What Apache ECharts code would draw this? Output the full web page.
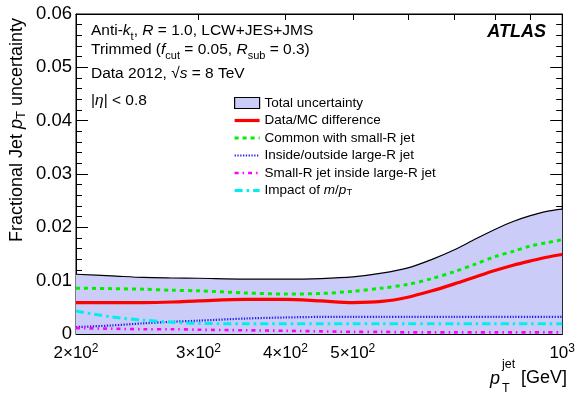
<!DOCTYPE html>
<html>
<head>
<meta charset="utf-8">
<script src="https://cdn.jsdelivr.net/npm/echarts@6/dist/echarts.min.js"></script>
<style>html,body{margin:0;padding:0;background:#fff}#c{width:578px;height:394px}</style>
</head>
<body>
<div id="c"></div>
<script>
// ---- data ----
var pT = [200, 225, 250, 275, 300, 350, 400, 450, 500, 550, 600, 650, 700, 750, 800, 850, 900, 950, 1000];
var totalUnc   = [0.0112, 0.0109, 0.0106, 0.0105, 0.01045, 0.0103, 0.0103, 0.0104, 0.0107, 0.0114, 0.0124, 0.0140, 0.0158, 0.0178, 0.0196, 0.0211, 0.0222, 0.0230, 0.0234];
var dataMC     = [0.0059, 0.0059, 0.0059, 0.0060, 0.0062, 0.0065, 0.0065, 0.0062, 0.0059, 0.0061, 0.0069, 0.0081, 0.0094, 0.0107, 0.0119, 0.0129, 0.0137, 0.0144, 0.0149];
var commonSR   = [0.0086, 0.0085, 0.0084, 0.0082, 0.0081, 0.0077, 0.0075, 0.0076, 0.0080, 0.0086, 0.0093, 0.0104, 0.0117, 0.0131, 0.0145, 0.0155, 0.0165, 0.0171, 0.0177];
var insideOut  = [0.0013, 0.0016, 0.0020, 0.0023, 0.0025, 0.0029, 0.0031, 0.0032, 0.0032, 0.0032, 0.0032, 0.0032, 0.0032, 0.0032, 0.0032, 0.0032, 0.0032, 0.0032, 0.0032];
var smallRin   = [0.0011, 0.0010, 0.0009, 0.0009, 0.0008, 0.0007, 0.0006, 0.0005, 0.0004, 0.0004, 0.0003, 0.0003, 0.0003, 0.0003, 0.0003, 0.0003, 0.0003, 0.0003, 0.0003];
var impactMpT  = [0.0043, 0.0032, 0.0026, 0.0022, 0.0020, 0.0019, 0.0019, 0.0019, 0.0019, 0.0019, 0.0019, 0.0019, 0.0019, 0.0019, 0.0019, 0.0019, 0.0019, 0.0019, 0.0019];

var seriesNames = ['Total uncertainty', 'Data/MC difference', 'Common with small-R jet', 'Inside/outside large-R jet', 'Small-R jet inside large-R jet', 'Impact of m/pT'];
var xTickValues = [200, 300, 400, 500, 600, 700, 800, 900, 1000];
var xLabelValues = [200, 300, 400, 500, 1000];
var xLabelTexts = ['2×10{s|2}', '3×10{s|2}', '4×10{s|2}', '5×10{s|2}', '10{s|3}'];
var yMin = 0, yMax = 0.06, yStep = 0.01;

function pairs(ys) { return pT.map(function (p, i) { return [p, ys[i]]; }); }

var FF = '"Liberation Sans", Arial, Helvetica, sans-serif';
var chart = echarts.init(document.getElementById('c'), null, {renderer: 'canvas'});

var xAxisBase = function (pos, showLabel) {
  return {
    type: 'log', logBase: 10, min: 200, max: 1000, position: pos,
    axisLine: {show: true, onZero: false, lineStyle: {color: '#000', width: 1}},
    axisTick: {show: true, inside: true, length: 6, customValues: xTickValues, lineStyle: {color: '#000'}},
    minorTick: {show: false},
    splitLine: {show: false},
    axisLabel: {
      show: showLabel, customValues: xLabelValues, margin: 9,
      fontFamily: FF, fontSize: 17, color: '#000', lineHeight: 20,
      formatter: function (v) { var i = xLabelValues.indexOf(Math.round(v)); return i >= 0 ? xLabelTexts[i] : ''; },
      rich: {s: {fontFamily: FF, fontSize: 12, lineHeight: 11, verticalAlign: 'top', color: '#000'}}
    }
  };
};
var yAxisBase = function (pos, showLabel) {
  return {
    type: 'value', min: yMin, max: yMax, interval: yStep, position: pos,
    axisLine: {show: true, onZero: false, lineStyle: {color: '#000', width: 1}},
    axisTick: {show: true, inside: true, length: 12, lineStyle: {color: '#000'}},
    minorTick: {show: true, splitNumber: 5, length: 6, lineStyle: {color: '#000'}},
    splitLine: {show: false},
    axisLabel: {
      show: showLabel, margin: 4, fontFamily: FF, fontSize: 18.5, color: '#000',
      formatter: function (v) { return v === 0 ? '0' : v.toFixed(2); }
    }
  };
};

var subRich = function (fs) {
  return {
    i: {fontStyle: 'italic', fontSize: fs, fontFamily: FF, lineHeight: 22},
    sub: {fontSize: Math.round(fs * 0.7), fontFamily: FF, lineHeight: 9, verticalAlign: 'bottom'}
  };
};

var option = {
  animation: false,
  backgroundColor: '#fff',
  grid: {left: 76, right: 12, top: 14, bottom: 60, show: true, borderColor: '#000', borderWidth: 1, backgroundColor: 'transparent'},
  xAxis: [xAxisBase('bottom', true), xAxisBase('top', false)],
  yAxis: [yAxisBase('left', true), yAxisBase('right', false)],
  legend: {
    orient: 'vertical', left: 233, top: 96, padding: 0, itemGap: 3.5,
    itemWidth: 25, itemHeight: 11, selectedMode: false,
    itemStyle: {opacity: 0},
    lineStyle: {width: 'inherit'},
    textStyle: {fontFamily: FF, fontSize: 13.5, color: '#000', lineHeight: 14,
      rich: {
        i: {fontFamily: FF, fontSize: 13.5, fontStyle: 'italic', lineHeight: 14},
        sub: {fontFamily: FF, fontSize: 9.5, lineHeight: 8, verticalAlign: 'bottom'}
      }},
    formatter: function (name) { return name === 'Impact of m/pT' ? 'Impact of {i|m}/{i|p}{sub|T}' : name; },
    data: [
      {name: seriesNames[0], icon: 'rect', itemStyle: {color: '#ccccf8', borderColor: '#000', borderWidth: 1.2, opacity: 1}},
      {name: seriesNames[1], lineStyle: {width: 3.2}},
      {name: seriesNames[2], lineStyle: {width: 3}},
      {name: seriesNames[3], lineStyle: {width: 2.2}},
      {name: seriesNames[4], lineStyle: {width: 2.6}},
      {name: seriesNames[5], lineStyle: {width: 3}}
    ]
  },
  series: [
    {name: seriesNames[0], type: 'line', smooth: 0.3, symbol: 'none', data: pairs(totalUnc), z: 1,
      itemStyle: {color: '#ccccf8'},
      lineStyle: {color: '#000', width: 1.2}, areaStyle: {color: '#ccccf8', opacity: 1}},
    {name: seriesNames[1], type: 'line', smooth: 0.3, symbol: 'none', data: pairs(dataMC), z: 5,
      itemStyle: {color: '#ff0000'}, lineStyle: {color: '#ff0000', width: 3.2}},
    {name: seriesNames[2], type: 'line', smooth: 0.3, symbol: 'none', data: pairs(commonSR), z: 4,
      itemStyle: {color: '#00ee00'}, lineStyle: {color: '#00ee00', width: 3, type: [4, 4]}},
    {name: seriesNames[3], type: 'line', smooth: 0.3, symbol: 'none', data: pairs(insideOut), z: 3,
      itemStyle: {color: '#2222ee'}, lineStyle: {color: '#2222ee', width: 2.2, type: [1.3, 1.5]}},
    {name: seriesNames[4], type: 'line', smooth: 0.3, symbol: 'none', data: pairs(smallRin), z: 3,
      itemStyle: {color: '#ff00ff'}, lineStyle: {color: '#ff00ff', width: 2.6, type: [4, 4, 1.5, 4]}},
    {name: seriesNames[5], type: 'line', smooth: 0.3, symbol: 'none', data: pairs(impactMpT), z: 3,
      itemStyle: {color: '#00eeee'}, lineStyle: {color: '#00eeee', width: 3, type: [8, 4, 2.5, 4]}}
  ],
  graphic: [
    {type: 'text', x: 91, y: 31, style: {text: 'Anti-{i|k}{sub|t}, {i|R} = 1.0, LCW+JES+JMS', fill: '#000', font: '15.5px ' + FF, textVerticalAlign: 'middle', rich: subRich(15.5)}},
    {type: 'text', x: 91, y: 50, style: {text: 'Trimmed ({i|f}{sub|cut} = 0.05, {i|R}{sub|sub} = 0.3)', fill: '#000', font: '15.5px ' + FF, textVerticalAlign: 'middle', rich: subRich(15.5)}},
    {type: 'text', x: 91, y: 74, style: {text: 'Data 2012, √{i|s} = 8 TeV', fill: '#000', font: '15.5px ' + FF, textVerticalAlign: 'middle', rich: subRich(15.5)}},
    {type: 'text', x: 91, y: 101, style: {text: '|{i|η}| < 0.8', fill: '#000', font: '15.5px ' + FF, textVerticalAlign: 'middle', rich: subRich(15.5)}},
    {type: 'text', x: 546, y: 32, style: {text: 'ATLAS', fill: '#000', font: 'italic bold 18px ' + FF, textAlign: 'right', textVerticalAlign: 'middle'}},
    {type: 'text', x: 17, y: 130, rotation: Math.PI / 2, style: {text: 'Fractional Jet {i|p}{sub|T} uncertainty', fill: '#000', font: '18px ' + FF, textAlign: 'center', textVerticalAlign: 'middle', rich: subRich(18)}},
    {type: 'text', x: 567, y: 378, style: {text: '[GeV]', fill: '#000', font: '18px ' + FF, textAlign: 'right', textVerticalAlign: 'middle'}},
    {type: 'text', x: 490, y: 379, style: {text: 'p', fill: '#000', font: 'italic 18px ' + FF, textAlign: 'left', textVerticalAlign: 'middle'}},
    {type: 'text', x: 502, y: 365, style: {text: 'jet', fill: '#000', font: '12.5px ' + FF, textAlign: 'left', textVerticalAlign: 'middle'}},
    {type: 'text', x: 502, y: 389, style: {text: 'T', fill: '#000', font: '12.5px ' + FF, textAlign: 'left', textVerticalAlign: 'middle'}}
  ]
};
chart.setOption(option);
</script>
</body>
</html>
